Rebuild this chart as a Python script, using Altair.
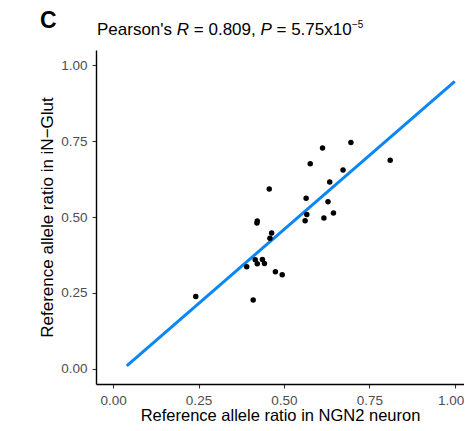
import altair as alt
import pandas as pd

# Scatter points
x_ngn2 = [0.696, 0.613, 0.577, 0.673, 0.634, 0.457, 0.565, 0.629, 0.422, 0.421,
          0.567, 0.562, 0.617, 0.645, 0.464, 0.459, 0.242, 0.391, 0.416, 0.422,
          0.437, 0.443, 0.475, 0.495, 0.410, 0.811]
y_inglut = [0.745, 0.727, 0.675, 0.655, 0.615, 0.592, 0.562, 0.550, 0.487, 0.480,
            0.508, 0.488, 0.497, 0.513, 0.447, 0.430, 0.238, 0.336, 0.359, 0.346,
            0.360, 0.347, 0.320, 0.310, 0.227, 0.687]

# Fitted line endpoints
fit_x = [0.04, 1.0]
fit_y = [0.01, 0.947]

tick_vals = [0.0, 0.25, 0.5, 0.75, 1.0]

pts = pd.DataFrame({"x": x_ngn2, "y": y_inglut})
fit = pd.DataFrame({"x": fit_x, "y": fit_y})

xs = alt.Scale(domain=[-0.05, 1.027], nice=False, zero=False)
ys = alt.Scale(domain=[-0.05, 1.05], nice=False, zero=False)

axis_common = dict(
    values=tick_vals, format=".2f", grid=False,
    domainColor="black", domainWidth=1.4,
    tickColor="#333333", tickWidth=1.1, tickSize=4,
    labelColor="#4d4d4d", labelFontSize=13.5, labelFont="Liberation Sans",
    titleColor="black", titleFont="Liberation Sans",
    titleFontWeight="normal",
)

line = alt.Chart(fit).mark_line(color="#0a86f7", strokeWidth=3).encode(
    x=alt.X("x:Q", scale=xs, axis=alt.Axis(
        title="Reference allele ratio in NGN2 neuron",
        labelAlign={"condition": {"test": "datum.value == 1", "value": "right"}, "value": "center"},
        labelOffset={"condition": {"test": "datum.value == 1", "value": 9}, "value": 0},
        labelPadding=5, titlePadding=1, titleFontSize=16.5, **axis_common)),
    y=alt.Y("y:Q", scale=ys, axis=alt.Axis(title="Reference allele ratio in iN\u2212Glut",
                                            labelPadding=5, titlePadding=4, titleFontSize=17,
                                            **axis_common)),
)

points = alt.Chart(pts).mark_circle(color="black", opacity=1, size=30).encode(
    x=alt.X("x:Q", scale=xs),
    y=alt.Y("y:Q", scale=ys),
)

font = "Liberation Sans"
def txt(s, x, y, size=17, style="normal", weight="normal"):
    return alt.Chart(pd.DataFrame({"t": [s]})).mark_text(
        align="left", baseline="alphabetic", font=font, fontSize=size,
        fontStyle=style, fontWeight=weight, color="black"
    ).encode(text="t:N", x=alt.value(x), y=alt.value(y))

title_parts = [
    txt("C", -56, -22, size=23, weight="bold"),
    txt("Pearson's", 1, -15),
    txt("R", 80.8, -15, style="italic"),
    txt("= 0.809,", 97.8, -15),
    txt("P", 164.5, -15, style="italic"),
    txt("= 5.75x10", 180.5, -15),
    txt("\u22125", 256.0, -22, size=10),
]

chart = alt.layer(line, points, *title_parts).properties(
    width=368, height=334,
    autosize=alt.AutoSizeParams(type="none"),
    padding={"left": 88, "top": 42, "right": 0, "bottom": 39},
).configure_view(stroke=None)

chart.save("out.html", embed_options={"renderer": "svg", "actions": False})
